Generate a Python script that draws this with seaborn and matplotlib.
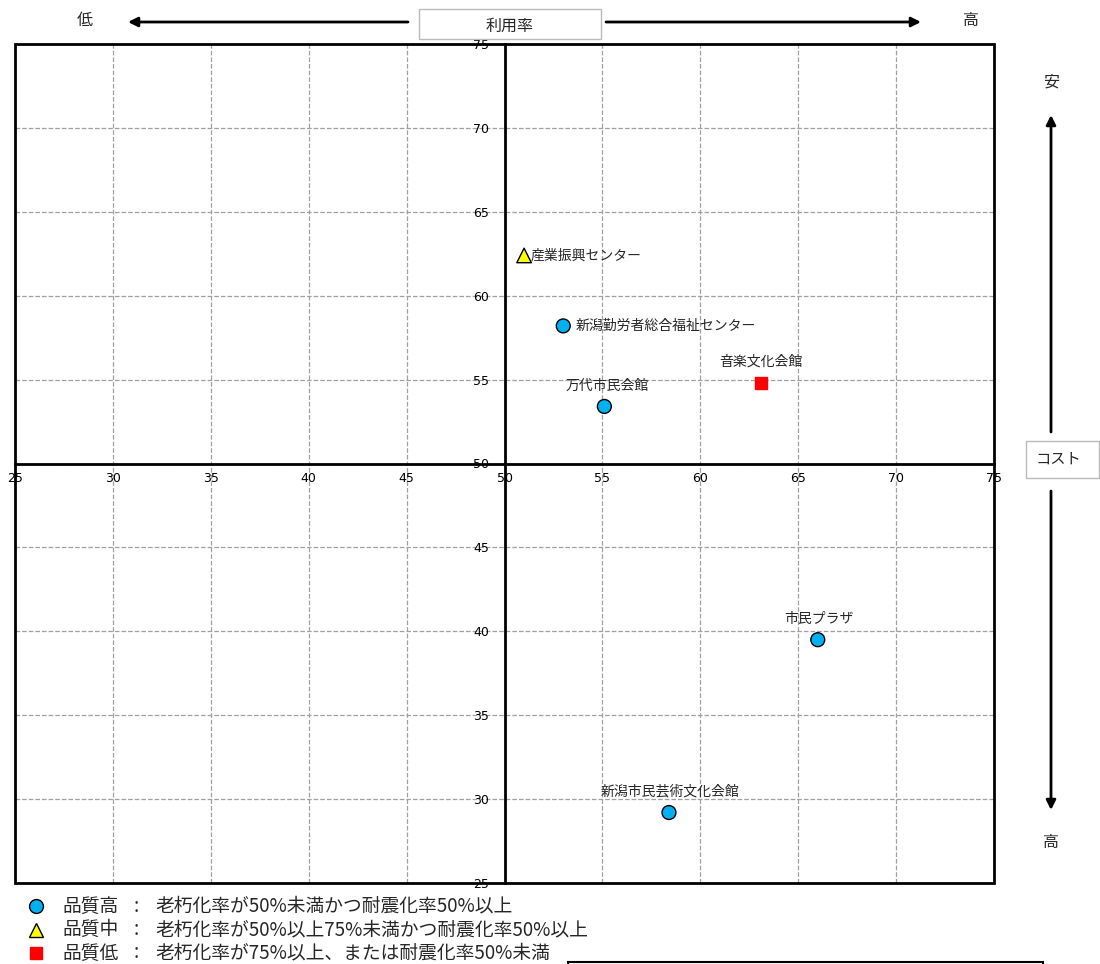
import numpy as np
import pandas as pd
import seaborn as sns
import matplotlib.pyplot as plt
from matplotlib.patches import Rectangle
from matplotlib.lines import Line2D

# facilities: utilisation (x) vs cost (y)
names = ['産業振興センター', '新潟勤労者総合福祉センター', '万代市民会館',
         '音楽文化会館', '市民プラザ', '新潟市民芸術文化会館']
riyou = [51.0, 53.0, 55.1, 63.1, 66.0, 58.4]
cost = [62.4, 58.2, 53.4, 54.8, 39.5, 29.2]
quality = ['中', '高', '高', '低', '高', '高']

ticks = list(range(25, 80, 5))
legend_keys = ['高', '中', '低']
legend_desc = ['老朽化率が50%未満かつ耐震化率50%以上',
               '老朽化率が50%以上75%未満かつ耐震化率50%以上',
               '老朽化率が75%以上、または耐震化率50%未満']

df = pd.DataFrame({'name': names, 'riyou': riyou, 'cost': cost, 'quality': quality})

colors = {'高': '#00B0F0', '中': '#FFFF00', '低': '#FF0000'}
markers = {'高': 'o', '中': '^', '低': 's'}
sizes = {'高': 100, '中': 110, '低': 80}
edges = {'高': 'black', '中': 'black', '低': '#FF0000'}

# label placement (offset points, alignment)
label_pos = {
    '産業振興センター': ((5, 0), 'left', 'center'),
    '新潟勤労者総合福祉センター': ((9, 0), 'left', 'center'),
    '万代市民会館': ((2, 10), 'center', 'bottom'),
    '音楽文化会館': ((0, 10), 'center', 'bottom'),
    '市民プラザ': ((1, 10), 'center', 'bottom'),
    '新潟市民芸術文化会館': ((1, 10), 'center', 'bottom'),
}

sns.set_style('white')
plt.rcParams['font.family'] = ['Noto Sans CJK JP', 'DejaVu Sans']

W, H = 1100, 964
fig = plt.figure(figsize=(W / 100, H / 100), dpi=100)
ax = fig.add_axes([15 / W, 1 - 883 / H, 979 / W, 839 / H])

sns.scatterplot(data=df, x='riyou', y='cost', hue='quality', style='quality',
                palette=colors, markers=markers, s=100, linewidth=1,
                edgecolor='black', legend=False, ax=ax, zorder=6)
coll = ax.collections[0]
coll.set_sizes([sizes[q] for q in df['quality']])
coll.set_edgecolors([edges[q] for q in df['quality']])

for i, r in df.iterrows():
    off, ha, va = label_pos[r['name']]
    ax.annotate(r['name'], (r['riyou'], r['cost']), xytext=off, textcoords='offset points',
                ha=ha, va=va, fontsize=10, zorder=7)

ax.set_xlim(25, 75)
ax.set_ylim(25, 75)
ax.set_xticks(ticks)
ax.set_yticks(ticks)
ax.set_xlabel('')
ax.set_ylabel('')
ax.grid(True, ls='--', color='#a0a0a0', lw=0.9)
ax.set_axisbelow(True)

for s in ['left', 'bottom']:
    ax.spines[s].set_position(('data', 50))
    ax.spines[s].set_linewidth(2)
    ax.spines[s].set_color('black')
    ax.spines[s].set_zorder(4)
for s in ['top', 'right']:
    ax.spines[s].set_visible(False)
ax.add_patch(Rectangle((0, 0), 1, 1, transform=ax.transAxes, fill=False,
                       lw=2, ec='black', clip_on=False, zorder=5))
ax.tick_params(direction='inout', length=6, width=1, labelsize=9, pad=3, colors='black')
ax.tick_params(axis='y', pad=8)
for lab in ax.get_xticklabels() + ax.get_yticklabels():
    lab.set_family('DejaVu Sans')


def fpx(x, y):
    return (x / W, 1 - y / H)


def arrow(x0, y0, x1, y1):
    fig.add_artist(plt.Annotation('', xy=fpx(x1, y1), xytext=fpx(x0, y0),
                                  xycoords='figure fraction', textcoords='figure fraction',
                                  arrowprops=dict(arrowstyle='-|>', lw=2, color='black',
                                                  mutation_scale=14, shrinkA=0, shrinkB=0)))


# top header: utilisation
fig.text(*fpx(85, 20), '低', ha='center', va='center', fontsize=11.5)
fig.text(*fpx(971, 20), '高', ha='center', va='center', fontsize=11.5)
arrow(408, 22, 128, 22)
arrow(606, 22, 921, 22)
fig.add_artist(Rectangle(fpx(419, 39), 182 / W, 30 / H, transform=fig.transFigure,
                         fill=False, ec='#bbbbbb', lw=1))
fig.text(*fpx(510, 26), '利用率', ha='center', va='center', fontsize=11.5)

# right header: cost
fig.text(*fpx(1051, 82), '安', ha='center', va='center', fontsize=11.5)
fig.text(*fpx(1051, 843), '高', ha='center', va='center', fontsize=11.5)
arrow(1051, 432, 1051, 115)
arrow(1051, 491, 1051, 810)
fig.add_artist(Rectangle(fpx(1026, 478), 73 / W, 37 / H, transform=fig.transFigure,
                         fill=False, ec='#bbbbbb', lw=1))
fig.text(*fpx(1058, 459), 'コスト', ha='center', va='center', fontsize=11)

# legend
for i, k in enumerate(legend_keys):
    y = 906 + i * 23.5
    fig.add_artist(Line2D([36 / W], [1 - y / H], transform=fig.transFigure, ls='',
                          marker=markers[k], ms=10 if k != '低' else 9,
                          mfc=colors[k], mec=edges[k], mew=1))
    fig.text(*fpx(62, y), '品質' + k, ha='left', va='center', fontsize=13.5)
    fig.text(*fpx(136, y), ':', ha='center', va='center', fontsize=13.5)
    fig.text(*fpx(155, y), legend_desc[i], ha='left', va='center', fontsize=13.5)

fig.add_artist(Rectangle(fpx(568, 1000), 475 / W, 38 / H, transform=fig.transFigure,
                         fill=False, ec='black', lw=1.5, clip_on=False))

fig.savefig('out.png', dpi=100)
